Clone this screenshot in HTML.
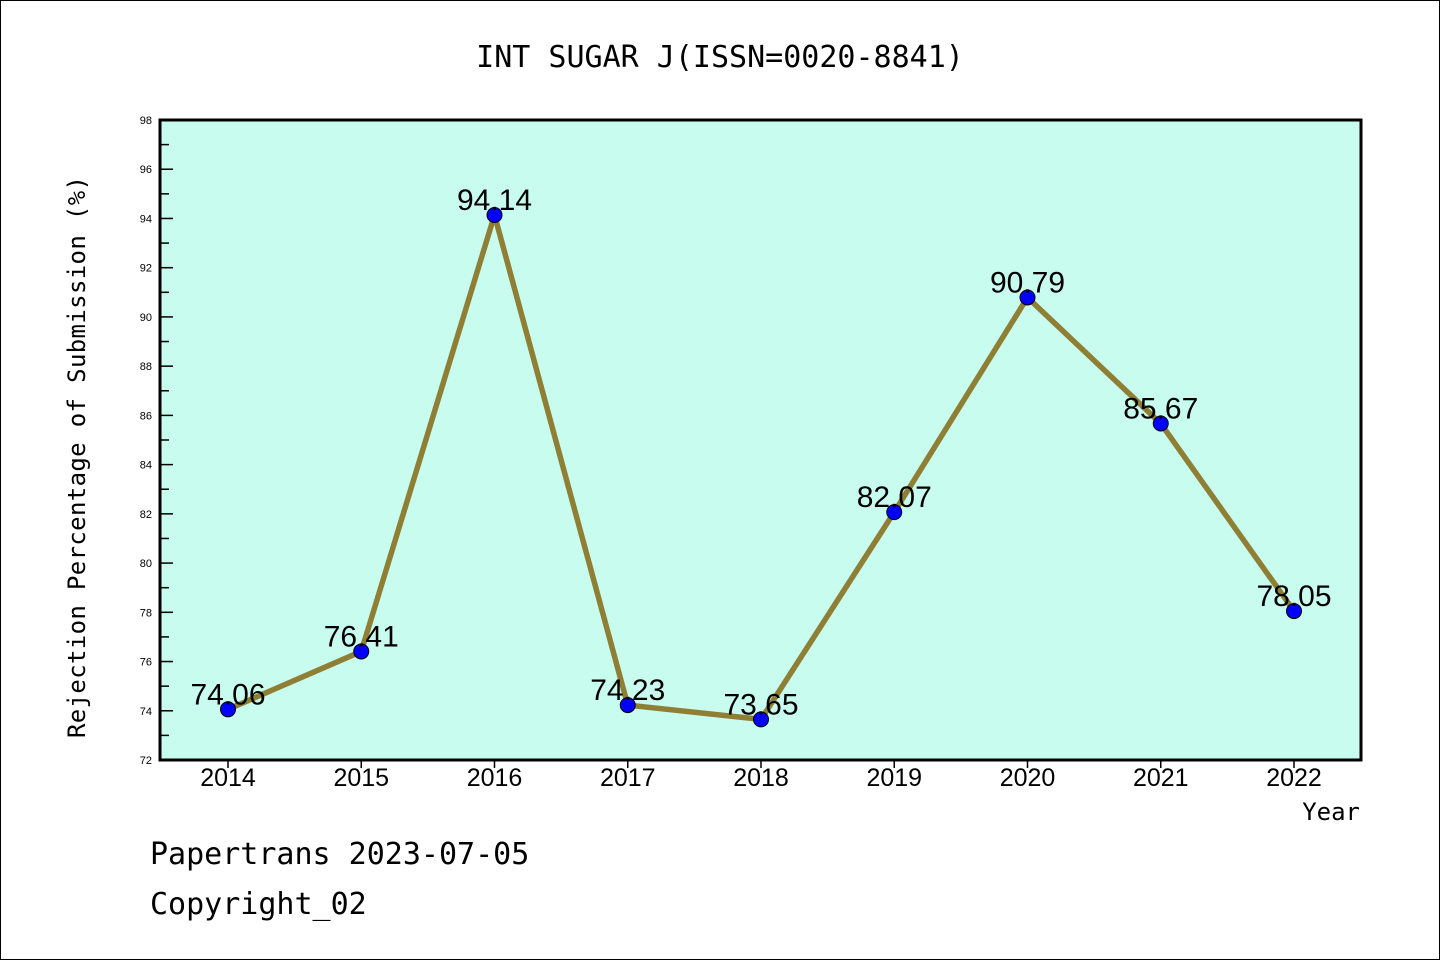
<!DOCTYPE html>
<html><head><meta charset="utf-8"><style>
html,body{margin:0;padding:0;background:#fff}
svg{display:block}
</style></head><body>
<svg width="1440" height="960" xmlns="http://www.w3.org/2000/svg">
<rect x="0.5" y="0.5" width="1439" height="959" fill="#fff" stroke="#000"/>
<text x="720" y="67" text-anchor="middle" font-family="DejaVu Sans Mono, monospace" font-size="30">INT SUGAR J(ISSN=0020-8841)</text>
<rect x="160" y="120" width="1201" height="640" fill="#c8fcee"/>
<g id="axes"></g>
<g id="marks"></g>
<rect x="160" y="120" width="1201" height="640" fill="none" stroke="#000" stroke-width="3"/>
<text x="1360" y="820" text-anchor="end" font-family="DejaVu Sans Mono, monospace" font-size="24">Year</text>
<text transform="translate(85,457) rotate(-90)" text-anchor="middle" font-family="DejaVu Sans Mono, monospace" font-size="24" textLength="562" lengthAdjust="spacing">Rejection Percentage of Submission (%)</text>
<text x="150" y="864" font-family="DejaVu Sans Mono, monospace" font-size="30">Papertrans 2023-07-05</text>
<text x="150" y="914" font-family="DejaVu Sans Mono, monospace" font-size="30">Copyright_02</text>
</svg>
<script>
const years = ['2014','2015','2016','2017','2018','2019','2020','2021','2022'];
const rejection = [74.06, 76.41, 94.14, 74.23, 73.65, 82.07, 90.79, 85.67, 78.05];
const yTicks = [72,74,76,78,80,82,84,86,88,90,92,94,96,98];
const NS='http://www.w3.org/2000/svg';
const x0=228, dx=133.25;
function xs(i){return x0+i*dx;}
function ys(v){return 760-(v-72)*(640/26);}
function mk(tag,attrs,parent,txt){const e=document.createElementNS(NS,tag);for(const k in attrs)e.setAttribute(k,attrs[k]);if(txt!==undefined)e.textContent=txt;parent.appendChild(e);return e;}
const axes=document.getElementById('axes'), marks=document.getElementById('marks');
yTicks.forEach(t=>{
  const y=ys(t);
  const l=mk('line',{x1:160,x2:173,y1:y,y2:y,stroke:'#000','stroke-width':1.5},axes);
  
  
  const tx=mk('text',{x:152,y:y+4,'text-anchor':'end','font-family':'Liberation Sans, sans-serif','font-size':11},axes,String(t));
  
  
  if(t<98){const m=ys(t+1);
    const ml=mk('line',{x1:160,x2:169,y1:m,y2:m,stroke:'#000','stroke-width':1.5},axes);
    
    }
});
years.forEach((yr,i)=>{
  const x=xs(i);
  const l=mk('line',{x1:x,x2:x,y1:760,y2:768,stroke:'#000','stroke-width':1.5},axes);
  
  
  const tx=mk('text',{x:x,y:786,'text-anchor':'middle','font-family':'Liberation Sans, sans-serif','font-size':25},axes,yr);
  
  
});
const pts=rejection.map((v,i)=>xs(i)+','+ys(v)).join(' ');
const pl=mk('polyline',{points:pts,fill:'none',stroke:'#8f7f35','stroke-width':5.5,'stroke-linejoin':'round'},marks);


rejection.forEach((v,i)=>{
  const c=mk('circle',{cx:xs(i),cy:ys(v),r:7.5,fill:'#0000ff',stroke:'#000','stroke-width':1},marks);
  
  
  const tx=mk('text',{x:xs(i),y:ys(v)-5,'text-anchor':'middle','font-family':'Liberation Sans, sans-serif','font-size':30},marks,v.toFixed(2));
  
  
});
</script>
</body></html>
